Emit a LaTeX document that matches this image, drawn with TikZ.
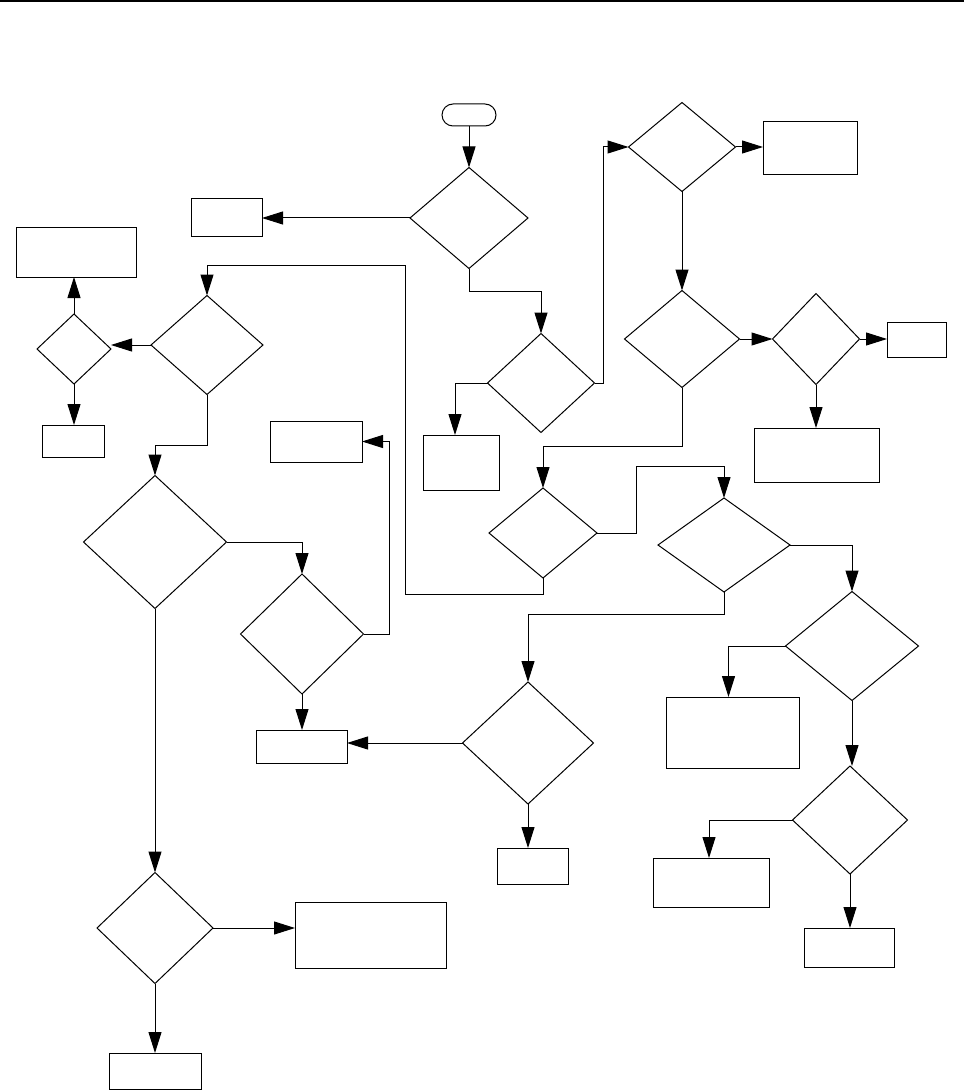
\documentclass[tikz,border=0pt]{standalone}
\usetikzlibrary{shapes.geometric,arrows.meta}
\tikzset{
  dec/.style={draw, diamond, inner sep=0pt, outer sep=0pt, line width=1pt},
  box/.style={draw, rectangle, inner sep=0pt, outer sep=0pt, line width=1pt},
  term/.style={draw, rectangle, rounded corners=11pt, inner sep=0pt, outer sep=0pt, line width=1pt},
  arr/.style={line width=1pt, -{Triangle[length=21pt,width=13pt]}},
  ln/.style={line width=1pt}
}
\begin{document}
\begin{tikzpicture}[x=1pt,y=-1pt]
\useasboundingbox (0,0) rectangle (964,1091);
\draw[line width=2.2pt] (0,1) -- (964,1);
% terminal
\node[term, minimum width=54pt, minimum height=22pt] (st) at (469,115) {};
% decisions
\node[dec, minimum width=118pt, minimum height=101pt] (d1) at (469,218) {};
\node[dec, minimum width=107pt, minimum height=99pt] (d2) at (541,383) {};
\node[dec, minimum width=107pt, minimum height=89pt] (d3) at (682,147) {};
\node[dec, minimum width=115pt, minimum height=97pt] (d4) at (682,339) {};
\node[dec, minimum width=87pt, minimum height=91pt] (d5) at (816,339) {};
\node[dec, minimum width=108pt, minimum height=90pt] (d6) at (543,533) {};
\node[dec, minimum width=112pt, minimum height=99pt] (d7) at (207,345) {};
\node[dec, minimum width=74pt, minimum height=70pt] (d8) at (74,349) {};
\node[dec, minimum width=143pt, minimum height=133pt] (d9) at (155,542) {};
\node[dec, minimum width=123pt, minimum height=120pt] (d10) at (302,634) {};
\node[dec, minimum width=131pt, minimum height=122pt] (d11) at (528,743) {};
\node[dec, minimum width=132pt, minimum height=94pt] (d12) at (724,545) {};
\node[dec, minimum width=133pt, minimum height=109pt] (d13) at (852,646) {};
\node[dec, minimum width=115pt, minimum height=108pt] (d14) at (850,820) {};
\node[dec, minimum width=116pt, minimum height=111pt] (d15) at (155,928) {};
% boxes
\node[box, minimum width=71pt, minimum height=38pt] (b1) at (226.5,218) {};
\node[box, minimum width=76pt, minimum height=55pt] (b2) at (461,462.5) {};
\node[box, minimum width=94pt, minimum height=53pt] (b3) at (810,148.5) {};
\node[box, minimum width=59pt, minimum height=35pt] (b5) at (916.5,339.5) {};
\node[box, minimum width=125pt, minimum height=54pt] (b6) at (816.5,455) {};
\node[box, minimum width=120pt, minimum height=49pt] (b8) at (76,252.5) {};
\node[box, minimum width=62pt, minimum height=32pt] (b9) at (73,441) {};
\node[box, minimum width=92pt, minimum height=41pt] (b10) at (316,441.5) {};
\node[box, minimum width=91pt, minimum height=33pt] (b11) at (301.5,746.5) {};
\node[box, minimum width=71pt, minimum height=36pt] (b12) at (532.5,866) {};
\node[box, minimum width=133pt, minimum height=71pt] (b13) at (732.5,732.5) {};
\node[box, minimum width=116pt, minimum height=49pt] (b14) at (711,882.5) {};
\node[box, minimum width=90pt, minimum height=39pt] (b15) at (849,947.5) {};
\node[box, minimum width=151pt, minimum height=66pt] (b16) at (370.5,935) {};
\node[box, minimum width=92pt, minimum height=36pt] (b17) at (155,1071) {};
% helper coordinates
\coordinate (k1) at (405,265);
\coordinate (k2) at (636,466);
% connectors
\draw[arr] (st.south) -- (d1.north);
\draw[arr] (d1.west) -- (b1.east);
\draw[arr] (d1.south) -- ++(0,23) -| (d2.north);
\draw[arr] (d2.west) -| ([xshift=-6pt]b2.north);
\draw[arr] (d2.east) -- ++(9,0) |- (d3.west);
\draw[arr] (d3.east) -- (d3.east -| b3.west);
\draw[arr] (d3.south) -- (d4.north);
\draw[arr] (d4.east) -- (d5.west);
\draw[arr] (d5.east) -- (d5.east -| b5.west);
\draw[arr] (d5.south) -- (d5.south |- b6.north);
\draw[arr] (d4.south) -- ++(0,59) -| (d6.north);
\draw[arr] (d6.south) -- ++(0,16) -| (k1) -| (d7.north);
\draw[arr] (d7.west) -- (d7.west -| d8.east);
\draw[arr] (d8.north) -- (d8.north |- b8.south);
\draw[arr] (d8.south) -- (d8.south |- b9.north);
\draw[arr] (d7.south) -- ++(0,51) -| (d9.north);
\draw[arr] (d9.east) -| (d10.north);
\draw[arr] (d10.east) -- ++(26,0) |- (b10.east);
\draw[arr] (d10.south) -- (d10.south |- b11.north);
\draw[arr] (d11.west) -- (d11.west -| b11.east);
\draw[arr] (d12.south) -- ++(0,22) -| (d11.north);
\draw[arr] (d11.south) -- (d11.south |- b12.north);
\draw[arr] (d6.east) -| (k2) -| (d12.north);
\draw[arr] (d12.east) -| (d13.north);
\draw[arr] (d13.west) -| ([xshift=-4pt]b13.north);
\draw[arr] (d13.south) -- (d13.south |- d14.north);
\draw[arr] (d14.west) -| ([xshift=-2pt]b14.north);
\draw[arr] (d14.south) -- (d14.south |- b15.north);
\draw[arr] (d9.south) -- (d15.north);
\draw[arr] (d15.east) -- (d15.east -| b16.west);
\draw[arr] (d15.south) -- (b17.north);
\end{tikzpicture}
\end{document}
